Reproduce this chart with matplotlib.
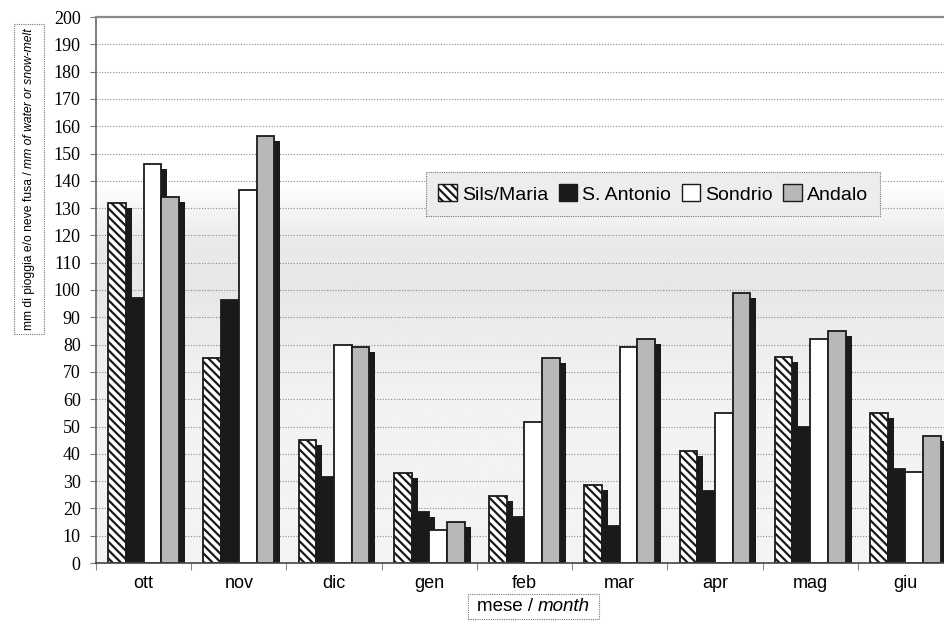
import matplotlib
matplotlib.use('Agg')
import numpy as np
import matplotlib.pyplot as plt
import matplotlib.patches as patches
import matplotlib.patheffects as pe
from matplotlib.transforms import Bbox

# data (mm)
months = ['ott', 'nov', 'dic', 'gen', 'feb', 'mar', 'apr', 'mag', 'giu']
stations = ['Sils/Maria', 'S. Antonio', 'Sondrio', 'Andalo']
sils = [132, 75, 45, 33, 24.5, 28.5, 41, 75.5, 55]
santonio = [97, 96.5, 31.5, 18.5, 17, 13.5, 26.5, 50, 34.5]
sondrio = [146, 136.5, 80, 12, 51.5, 79, 55, 82, 33.5]
andalo = [134, 156.5, 79, 15, 75, 82, 99, 85, 46.5]
yticks = list(range(0, 201, 10))

plt.rcParams['font.family'] = ['Liberation Sans', 'DejaVu Sans']
plt.rcParams['hatch.linewidth'] = 1.6

fig = plt.figure(figsize=(9.45, 6.28), dpi=100)
ax = fig.add_axes([96/945, 65/628, 857/945, 546/628])

# background shading (white on top, grey band in the middle)
gy = np.linspace(0, 200, 201)
shade = np.interp(gy, [0, 60, 85, 100, 118, 140, 200],
                  [0.955, 0.95, 0.925, 0.905, 0.915, 1.0, 1.0])
ax.imshow(shade[:, None], extent=(0, 9, 0, 200), origin='lower', aspect='auto',
          cmap='gray', vmin=0, vmax=1, zorder=0.1, interpolation='bilinear')

styles = [dict(facecolor='white', hatch='\\\\\\\\'),
          dict(facecolor='#1a1a1a'),
          dict(facecolor='white'),
          dict(facecolor='#b8b8b8')]
series = [sils, santonio, sondrio, andalo]

x = np.arange(len(months)) + 0.5
w = 0.186
shadow = [pe.SimplePatchShadow(offset=(4.3, -3.6), shadow_rgbFace='#1a1a1a', alpha=1.0),
          pe.Normal()]
for i, vals in enumerate(series):
    bars = ax.bar(x + (i - 1.5) * w, vals, w, edgecolor='#1a1a1a', linewidth=1.3,
                  zorder=2, **styles[i])
    for b in bars:
        b.set_path_effects(shadow)

ax.set_xlim(0, 9)
ax.set_ylim(0, 200)
ax.set_axisbelow(True)
ax.yaxis.grid(True, color='#8a8a8a', linestyle=(0, (1, 1.5)), linewidth=0.8)

ax.set_yticks(yticks)
ax.set_yticklabels([str(v) for v in yticks], family='Liberation Serif', fontsize=13)
ax.tick_params(axis='y', length=4, width=0.8, color='#777', pad=7)
ax.set_xticks(x)
ax.set_xticklabels(months, fontsize=13)
ax.set_xticks(np.arange(0, 10), minor=True)
ax.tick_params(axis='x', which='major', length=0, pad=9)
ax.tick_params(axis='x', which='minor', length=5, width=0.8, color='#888')

for s, c, lw in [('top', '#8c8c8c', 1.6), ('left', '#666666', 1.2), ('bottom', '#444444', 1.2)]:
    ax.spines[s].set_color(c)
    ax.spines[s].set_linewidth(lw)
ax.spines['right'].set_visible(False)

handles = [patches.Patch(edgecolor='#1a1a1a', linewidth=1.0, **styles[i]) for i in range(4)]
leg = ax.legend(handles, stations, ncol=4, loc='center',
                bbox_to_anchor=(653/945, 1 - 194/628), bbox_transform=fig.transFigure,
                fontsize=14, handlelength=0.95, handleheight=0.95, handletextpad=0.25,
                columnspacing=0.55, fancybox=False, borderpad=0.65)
fr = leg.get_frame()
fr.set_facecolor('#ededed')
fr.set_edgecolor('#777777')
fr.set_linestyle((0, (1, 1)))
fr.set_linewidth(0.8)
fr.set_alpha(1)

# axis titles: plain part + italic part in a dotted box
t1 = fig.text(29/945, 1 - 330/628, 'mm di pioggia e/o neve fusa / ', rotation=90,
              ha='center', va='bottom', fontsize=8.7)
t2 = ax.annotate('mm of water or snow-melt', xy=(0.5, 1), xycoords=t1, rotation=90,
                 ha='center', va='bottom', style='italic', fontsize=8.7,
                 annotation_clip=False)

t3 = fig.text(538/945, 1 - 615/628, 'mese / ', ha='right', va='bottom', fontsize=13.5)
t4 = ax.annotate('month', xy=(1, 0), xycoords=t3, ha='left', va='bottom',
                 style='italic', fontsize=13.5, annotation_clip=False)

fig.canvas.draw()
r = fig.canvas.get_renderer()
inv = fig.transFigure.inverted()
for a, b, px, py in [(t1, t2, 9, 4), (t3, t4, 9, 4)]:
    bb = Bbox.union([a.get_window_extent(r), b.get_window_extent(r)])
    (x0, y0), (x1, y1) = inv.transform([[bb.x0 - px, bb.y0 - py], [bb.x1 + px, bb.y1 + py]])
    fig.add_artist(patches.Rectangle((x0, y0), x1 - x0, y1 - y0, transform=fig.transFigure,
                                     fill=False, edgecolor='#777777', linewidth=0.8,
                                     linestyle=(0, (1, 1))))

fig.savefig('out.png', dpi=100)
